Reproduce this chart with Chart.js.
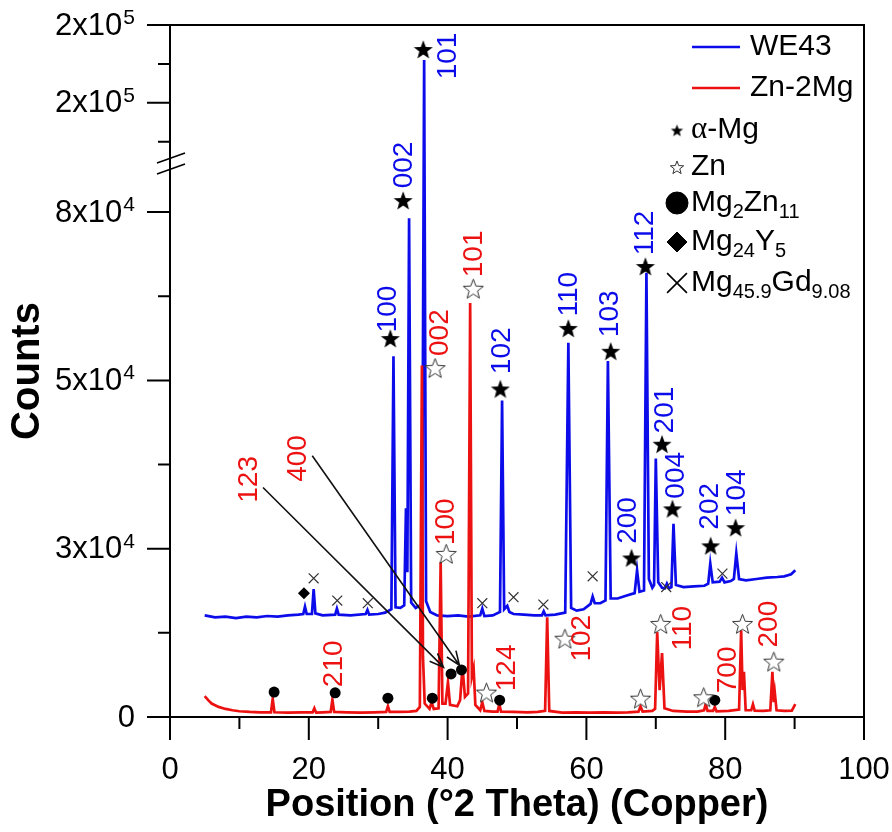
<!DOCTYPE html>
<html lang="en">
<head>
<meta charset="UTF-8">
<title>XRD - WE43 / Zn-2Mg</title>
<script src="https://cdn.jsdelivr.net/npm/chart.js"></script>
<style>
  body { margin: 0; background: #fff; }
  #wrap { width: 892px; height: 832px; }
</style>
</head>
<body>
<div id="wrap"><canvas id="xrd" width="892" height="832"></canvas></div>
<script>
// ---- values: [2 theta, counts] ----
const we43Scan = [
  [5.0, 15100], [6.5, 14800], [8.0, 14900], [9.5, 14700], [11.0, 14900], [12.5, 14800],
  [14.0, 15000], [15.5, 14900], [17.0, 15100], [18.5, 15200], [19.2, 15300], [19.45, 16400],
  [19.7, 15300], [20.45, 15300], [20.7, 19000], [20.95, 15400], [22.0, 15100], [23.8, 15200],
  [24.05, 16100], [24.3, 15200], [26.0, 15100], [28.2, 15300], [28.45, 15900], [28.7, 15200],
  [30.0, 15300], [31.0, 15500], [31.9, 16000], [32.2, 53600], [32.5, 16300], [33.2, 16200],
  [33.75, 16600], [34.0, 31000], [34.2, 21500], [34.45, 74100], [34.75, 17000], [35.4, 16200],
  [36.05, 16600], [36.3, 17000], [36.62, 177500], [36.9, 17200], [37.5, 15600], [38.5, 15100],
  [40.0, 15000], [41.5, 15100], [43.0, 14900], [44.7, 15100], [45.0, 16100], [45.3, 15000],
  [46.5, 15100], [47.55, 15600], [47.85, 47000], [48.15, 16000], [48.6, 16500], [48.9, 15600],
  [49.5, 15300], [51.0, 15200], [52.5, 15100], [53.6, 15100], [53.85, 15700], [54.1, 15100],
  [55.5, 15200], [56.95, 15500], [57.4, 55600], [57.8, 16200], [58.6, 15800], [59.6, 16000],
  [60.6, 16800], [60.9, 17900], [61.2, 16900], [62.0, 16900], [62.75, 17300], [63.1, 52900],
  [63.5, 17600], [64.5, 17600], [65.7, 18000], [66.95, 18400], [67.3, 21800], [67.65, 18600],
  [68.3, 18800], [68.65, 66000], [69.0, 20500], [69.5, 19200], [69.75, 19600], [70.0, 38400],
  [70.35, 20000], [70.9, 19200], [71.3, 19100], [71.6, 19800], [71.9, 19100], [72.25, 19300],
  [72.55, 28700], [72.9, 19600], [74.0, 19300], [75.5, 19400], [77.0, 19500], [77.55, 19800],
  [77.85, 22800], [78.2, 20000], [79.2, 20100], [79.55, 20700], [79.9, 20000], [80.8, 20200],
  [81.25, 20500], [81.6, 24300], [82.0, 20500], [83.0, 20300], [84.5, 20500], [86.0, 20700],
  [87.5, 20800], [88.5, 20900], [89.5, 21200], [90.1, 21800]
];

const zn2MgScan = [
  [5.0, 3100], [5.5, 2500], [6.0, 2000], [7.0, 1500], [8.0, 1200], [9.0, 1000], [10.0, 850],
  [11.5, 750], [13.0, 700], [14.55, 700], [14.8, 2700], [15.05, 700], [17.0, 650], [19.0, 700],
  [20.55, 700], [20.8, 1300], [21.05, 650], [22.0, 700], [23.15, 750], [23.4, 2600], [23.65, 750],
  [25.5, 700], [27.5, 650], [29.5, 700], [31.15, 750], [31.4, 1600], [31.65, 750], [33.0, 750],
  [34.5, 800], [35.5, 900], [36.0, 1500], [36.3, 52200], [36.45, 9000], [36.7, 2000], [37.4, 1200],
  [37.7, 2200], [38.0, 1200], [38.7, 1300], [39.0, 23000], [39.25, 2000], [39.7, 2000], [40.05, 5200],
  [40.35, 1800], [41.4, 1600], [41.8, 2500], [42.15, 7400], [42.5, 3000], [42.95, 3500], [43.25, 61500],
  [43.5, 6000], [43.75, 7200], [44.0, 1800], [44.7, 1000], [45.0, 2200], [45.3, 900], [46.5, 800],
  [47.2, 800], [47.45, 1900], [47.7, 800], [49.5, 750], [51.5, 700], [53.0, 750], [54.05, 900],
  [54.35, 14800], [54.65, 900], [56.5, 650], [58.5, 700], [60.5, 650], [62.5, 700], [64.5, 650],
  [66.0, 700], [67.5, 800], [67.8, 1600], [68.1, 800], [69.5, 900], [69.9, 1200], [70.2, 12600],
  [70.55, 4000], [70.9, 9500], [71.25, 1300], [72.5, 900], [74.5, 800], [76.0, 800], [76.95, 1000],
  [77.2, 2000], [77.45, 900], [78.25, 900], [78.5, 1500], [78.75, 850], [80.5, 900], [82.0, 1100],
  [82.3, 12900], [82.5, 4000], [82.7, 6700], [82.95, 1000], [83.75, 1000], [84.0, 1900], [84.25, 950],
  [85.5, 900], [86.5, 1000], [86.8, 6700], [87.0, 2200], [87.15, 3600], [87.4, 1000], [88.5, 900],
  [89.6, 950], [90.1, 1900]
];

// phase markers [2 theta, counts]
const alphaMgMarks = [[31.75, 56300], [33.6, 76800], [36.5, 184600], [47.6, 48800], [57.4, 57800],
  [63.5, 54400], [66.5, 23700], [68.5, 67000], [70.9, 40600], [72.4, 31000], [77.9, 25500], [81.5, 28200]];
const znMarks = [[38.2, 51900], [39.8, 24300], [43.7, 63700], [45.6, 3700], [56.9, 11700],
  [67.8, 2800], [70.7, 13900], [76.9, 3000], [82.5, 13900], [87.0, 8300]];
const mg2Zn11Marks = [[15.0, 3700], [23.8, 3600], [31.4, 2800], [37.8, 2800], [40.5, 6400],
  [42.0, 7000], [47.5, 2500], [78.5, 2500]];
const mg24Y5Marks = [[19.3, 18400]];
const mgGdMarks = [[20.7, 20600], [24.1, 17300], [28.5, 16900], [45.0, 16900], [49.5, 17800],
  [53.8, 16700], [60.9, 20900], [71.5, 19300], [79.6, 21300]];

// hkl labels [text, 2 theta, counts]
const we43Hkl = [['100', 31.5, 60600], ['002', 33.7, 82000], ['101', 40.1, 180100], ['102', 47.9, 54400],
  ['110', 57.6, 62800], ['103', 63.5, 59900], ['200', 66.1, 29200], ['112', 68.5, 71900],
  ['201', 71.4, 45600], ['004', 72.9, 35900], ['202', 77.9, 31300], ['104', 81.8, 33300]];
const zn2MgHkl = [['123', 11.4, 35300], ['400', 18.5, 38400], ['002', 39.0, 57100], ['101', 43.8, 68800],
  ['100', 39.8, 29000], ['210', 23.6, 7900], ['124', 48.6, 7300], ['102', 59.4, 11700],
  ['110', 74.0, 13200], ['700', 80.5, 7000], ['200', 86.3, 13800]];
// arrows [from 2theta, from counts, to 2theta, to counts]
const hklArrows = [[13.4, 34100, 39.4, 7400], [20.5, 38800, 41.7, 7700]];

const xMajorTicks = [0, 20, 40, 60, 80, 100];
const xMinorTicks = [10, 30, 50, 70, 90];
const yMajorTicks = [0, 25000, 50000, 75000, 150000, 200000];
const yTickMantissa = ['0', '3x10', '5x10', '8x10', '2x10', '2x10'];
const yTickExponent = ['', '4', '4', '4', '5', '5'];
const yMinorTicks = [12500, 37500, 62500, 125000, 175000];
const yBreakFrom = 82000;
const yBreakTo = 110000;
const yMax = 200000;

// ---- styling ----
const BLUE = 'rgb(12,12,235)';
const RED = 'rgb(236,18,18)';
const SANS = "'Liberation Sans', Arial, sans-serif";
const BREAK_SHARE = 552 / 692; // part of the axis height below the break

Chart.defaults.font.family = SANS;
Chart.defaults.color = '#000';

// linear axis with a gap between yBreakFrom and yBreakTo
class BrokenLinearScale extends Chart.LinearScale {
  static id = 'brokenLinear';
  static defaults = Chart.LinearScale.defaults;
  toDecimal(v) {
    if (v <= yBreakFrom) return v / yBreakFrom * BREAK_SHARE;
    if (v >= yBreakTo) return BREAK_SHARE + (v - yBreakTo) / (yMax - yBreakTo) * (1 - BREAK_SHARE);
    return BREAK_SHARE;
  }
  getPixelForValue(v) {
    return this.getPixelForDecimal(this.toDecimal(v));
  }
  getValueForPixel(p) {
    const d = this.getDecimalForPixel(p);
    if (d <= BREAK_SHARE) return d / BREAK_SHARE * yBreakFrom;
    return yBreakTo + (d - BREAK_SHARE) / (1 - BREAK_SHARE) * (yMax - yBreakTo);
  }
}
Chart.register(BrokenLinearScale);

function starPath(ctx, cx, cy, r) {
  ctx.beginPath();
  for (let i = 0; i < 10; i++) {
    const rad = i % 2 ? r * 0.42 : r;
    const a = -Math.PI / 2 + i * Math.PI / 5;
    ctx.lineTo(cx + rad * Math.cos(a), cy + rad * Math.sin(a));
  }
  ctx.closePath();
}

function starImage(size, filled) {
  const c = document.createElement('canvas');
  c.width = c.height = size;
  const g = c.getContext('2d');
  starPath(g, size / 2, size / 2 + size * 0.06, size / 2 - 1);
  if (filled) {
    g.fillStyle = '#000';
    g.fill();
  } else {
    g.fillStyle = '#fff';
    g.fill();
    g.strokeStyle = '#333';
    g.lineWidth = 1;
    g.stroke();
  }
  return c;
}

const starFilled = starImage(22, true);
const starOpen = starImage(23, false);
const starFilledSmall = starImage(15, true);
const starOpenSmall = starImage(16, false);

const toXY = arr => arr.map(([x, y]) => ({ x, y }));

function drawRich(ctx, parts, x, y) {
  let cx = x;
  for (const p of parts) {
    if (p.sub) ctx.font = '20px ' + SANS;
    else if (p.serif) ctx.font = "31px 'Liberation Serif', serif";
    else ctx.font = '30px ' + SANS;
    ctx.fillText(p.t, cx, p.sub ? y + 9 : y);
    cx += ctx.measureText(p.t).width;
  }
}

const decorPlugin = {
  id: 'xrdDecor',
  afterDraw(chart) {
    const { ctx, chartArea: a, scales: { x, y } } = chart;
    ctx.save();
    ctx.strokeStyle = '#000';
    ctx.fillStyle = '#000';
    ctx.lineWidth = 2;

    // frame + axes
    ctx.beginPath();
    ctx.moveTo(a.left, a.bottom + 23); ctx.lineTo(a.left, a.top); ctx.lineTo(a.right, a.top);
    ctx.lineTo(a.right, a.bottom); ctx.lineTo(a.left - 23, a.bottom);
    ctx.stroke();

    // tick marks
    ctx.beginPath();
    xMajorTicks.forEach(v => { const px = x.getPixelForValue(v); ctx.moveTo(px, a.bottom); ctx.lineTo(px, a.bottom + 23); });
    xMinorTicks.forEach(v => { const px = x.getPixelForValue(v); ctx.moveTo(px, a.bottom); ctx.lineTo(px, a.bottom + 12); });
    yMajorTicks.forEach(v => { const py = y.getPixelForValue(v); ctx.moveTo(a.left, py); ctx.lineTo(a.left - 23, py); });
    yMinorTicks.forEach(v => { const py = y.getPixelForValue(v); ctx.moveTo(a.left, py); ctx.lineTo(a.left - 12, py); });
    ctx.stroke();

    // axis break
    const pb = y.getPixelForValue(yBreakFrom);
    ctx.lineWidth = 1.6;
    ctx.beginPath();
    ctx.moveTo(a.left - 13, pb - 2); ctx.lineTo(a.left + 15, pb - 12);
    ctx.moveTo(a.left - 13, pb + 9); ctx.lineTo(a.left + 15, pb - 1);
    ctx.stroke();

    // y tick labels with superscript exponent
    ctx.textBaseline = 'middle';
    ctx.textAlign = 'right';
    yMajorTicks.forEach((v, i) => {
      const py = y.getPixelForValue(v);
      let right = a.left - 35;
      if (yTickExponent[i]) {
        ctx.font = '21px ' + SANS;
        ctx.fillText(yTickExponent[i], right, py - 7);
        right -= ctx.measureText(yTickExponent[i]).width + 1;
      }
      ctx.font = '31px ' + SANS;
      ctx.fillText(yTickMantissa[i], right, py + 1);
    });

    // hkl labels, rotated
    ctx.textAlign = 'center';
    ctx.font = '28px ' + SANS;
    const drawHkl = (list, color) => {
      ctx.fillStyle = color;
      list.forEach(([t, hx, hy]) => {
        ctx.save();
        ctx.translate(x.getPixelForValue(hx), y.getPixelForValue(hy));
        ctx.rotate(-Math.PI / 2);
        ctx.fillText(t, 0, 0);
        ctx.restore();
      });
    };
    drawHkl(we43Hkl, BLUE);
    drawHkl(zn2MgHkl, RED);

    // arrows
    ctx.strokeStyle = '#111';
    ctx.lineWidth = 1.6;
    hklArrows.forEach(([x0, y0, x1, y1]) => {
      const sx = x.getPixelForValue(x0), sy = y.getPixelForValue(y0);
      const ex = x.getPixelForValue(x1), ey = y.getPixelForValue(y1);
      const ang = Math.atan2(ey - sy, ex - sx);
      ctx.beginPath();
      ctx.moveTo(sx, sy); ctx.lineTo(ex, ey);
      ctx.moveTo(ex - 15 * Math.cos(ang - 0.38), ey - 15 * Math.sin(ang - 0.38));
      ctx.lineTo(ex, ey);
      ctx.lineTo(ex - 15 * Math.cos(ang + 0.38), ey - 15 * Math.sin(ang + 0.38));
      ctx.stroke();
    });

    // legend
    ctx.textAlign = 'left';
    ctx.fillStyle = '#000';
    const lx = a.right - 172, tx = a.right - 114, mx = a.right - 187, mt = a.right - 173;
    [[BLUE, 'WE43', 22], [RED, 'Zn-2Mg', 63]].forEach(([c, t, dy]) => {
      ctx.strokeStyle = c;
      ctx.lineWidth = 2.4;
      ctx.beginPath(); ctx.moveTo(lx, a.top + dy); ctx.lineTo(lx + 48, a.top + dy); ctx.stroke();
      ctx.font = '30px ' + SANS;
      ctx.fillText(t, tx, a.top + dy);
    });
    const rows = [
      { dy: 105, img: starFilledSmall, parts: [{ t: 'α', serif: true }, { t: '-Mg' }] },
      { dy: 142, img: starOpenSmall, parts: [{ t: 'Zn' }] },
      { dy: 178, style: 'circle', r: 11, parts: [{ t: 'Mg' }, { t: '2', sub: true }, { t: 'Zn' }, { t: '11', sub: true }] },
      { dy: 217, style: 'rectRot', r: 10, parts: [{ t: 'Mg' }, { t: '24', sub: true }, { t: 'Y' }, { t: '5', sub: true }] },
      { dy: 258, style: 'crossRot', r: 14, parts: [{ t: 'Mg' }, { t: '45.9', sub: true }, { t: 'Gd' }, { t: '9.08', sub: true }] }
    ];
    rows.forEach(row => {
      const cy = a.top + row.dy;
      if (row.img) {
        ctx.drawImage(row.img, mx - row.img.width / 2, cy - row.img.height / 2);
      } else {
        ctx.fillStyle = '#000';
        ctx.strokeStyle = '#000';
        ctx.lineWidth = row.style === 'crossRot' ? 1.6 : 1;
        Chart.helpers.drawPoint(ctx, { pointStyle: row.style, radius: row.r, rotation: 0, borderWidth: ctx.lineWidth }, mx, cy);
      }
      ctx.fillStyle = '#000';
      drawRich(ctx, row.parts, mt, cy);
    });
    ctx.restore();
  }
};

new Chart(document.getElementById('xrd'), {
  type: 'line',
  data: {
    datasets: [
      { label: 'WE43', data: toXY(we43Scan), borderColor: BLUE, borderWidth: 2.7, pointRadius: 0, tension: 0, order: 3 },
      { label: 'Zn-2Mg', data: toXY(zn2MgScan), borderColor: RED, borderWidth: 2.7, pointRadius: 0, tension: 0, order: 2 },
      { label: 'α-Mg', data: toXY(alphaMgMarks), showLine: false, pointStyle: starFilled, pointRadius: 10, order: 0 },
      { label: 'Zn', data: toXY(znMarks), showLine: false, pointStyle: starOpen, pointRadius: 10, order: 0 },
      { label: 'Mg2Zn11', data: toXY(mg2Zn11Marks), showLine: false, pointStyle: 'circle', pointRadius: 5.5,
        backgroundColor: '#000', borderColor: '#000', borderWidth: 0, order: 0 },
      { label: 'Mg24Y5', data: toXY(mg24Y5Marks), showLine: false, pointStyle: 'rectRot', pointRadius: 6,
        backgroundColor: '#000', borderColor: '#000', borderWidth: 0, order: 0 },
      { label: 'Mg45.9Gd9.08', data: toXY(mgGdMarks), showLine: false, pointStyle: 'crossRot', pointRadius: 7,
        borderColor: '#333', borderWidth: 1.2, order: 0 }
    ]
  },
  options: {
    responsive: false,
    animation: false,
    layout: { padding: { top: 25, right: 28, left: 0, bottom: 0 } },
    plugins: { legend: { display: false }, tooltip: { enabled: false } },
    scales: {
      x: {
        type: 'linear', min: 0, max: 100,
        grid: { display: false, tickLength: 23 },
        border: { display: false },
        ticks: { stepSize: 20, font: { size: 31 }, color: '#000', padding: 12, maxRotation: 0 },
        title: { display: true, text: 'Position (°2 Theta) (Copper)', font: { size: 38, weight: 'bold' },
          color: '#000', padding: { top: 0, bottom: 4 } },
        afterFit(s) { s.height = 115; s.paddingLeft = 0; s.paddingRight = 0; }
      },
      y: {
        type: 'brokenLinear', min: 0, max: yMax,
        grid: { display: false },
        border: { display: false },
        ticks: { display: false },
        title: { display: true, text: 'Counts', font: { size: 40, weight: 'bold' }, color: '#000',
          padding: { top: 4, bottom: 0 } },
        afterFit(s) { s.width = 170; }
      }
    }
  },
  plugins: [decorPlugin]
});
</script>
</body>
</html>
